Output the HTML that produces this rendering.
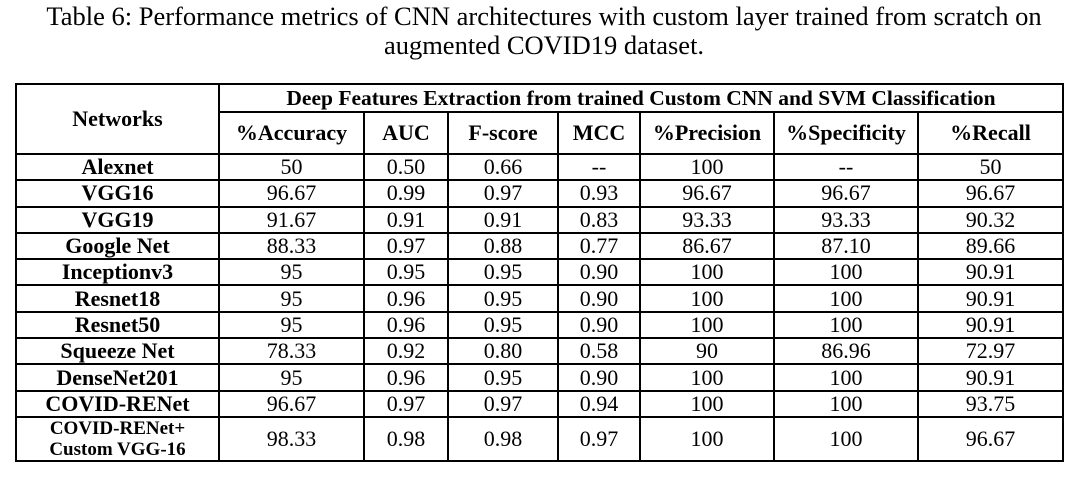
<!DOCTYPE html>
<html><head><meta charset="utf-8"><style>
body{margin:0;background:#fff;width:1088px;height:492px;overflow:hidden;font-family:"Liberation Serif",serif;color:#000}
.title{position:absolute;left:0;top:2px;width:1088px;text-align:center;font-size:26.5px;line-height:29px}
table{position:absolute;left:15px;top:83px;border-collapse:collapse;table-layout:fixed;font-size:22px}
td,th{border:2px solid #000;text-align:center;padding:0;line-height:22px;overflow:hidden;white-space:nowrap}
th{font-weight:bold}
td.n{font-weight:bold}
tr.d td{height:24.3px}
</style></head><body>
<div class="title">Table 6: Performance metrics of CNN architectures with custom layer trained from scratch on<br>augmented COVID19 dataset.</div>
<table>
<colgroup><col style="width:203px"><col style="width:145px"><col style="width:84px"><col style="width:110px"><col style="width:82px"><col style="width:134px"><col style="width:144px"><col style="width:145px"></colgroup>
<tr style="height:28px"><th rowspan="2">Networks</th><th colspan="7" style="font-size:21.5px">Deep Features Extraction from trained Custom CNN and SVM Classification</th></tr>
<tr style="height:42px"><th>%Accuracy</th><th>AUC</th><th>F-score</th><th>MCC</th><th>%Precision</th><th>%Specificity</th><th>%Recall</th></tr>
<tr class="d"><td class="n">Alexnet</td><td>50</td><td>0.50</td><td>0.66</td><td>--</td><td>100</td><td>--</td><td>50</td></tr>
<tr class="d"><td class="n">VGG16</td><td>96.67</td><td>0.99</td><td>0.97</td><td>0.93</td><td>96.67</td><td>96.67</td><td>96.67</td></tr>
<tr class="d"><td class="n">VGG19</td><td>91.67</td><td>0.91</td><td>0.91</td><td>0.83</td><td>93.33</td><td>93.33</td><td>90.32</td></tr>
<tr class="d"><td class="n">Google Net</td><td>88.33</td><td>0.97</td><td>0.88</td><td>0.77</td><td>86.67</td><td>87.10</td><td>89.66</td></tr>
<tr class="d"><td class="n">Inceptionv3</td><td>95</td><td>0.95</td><td>0.95</td><td>0.90</td><td>100</td><td>100</td><td>90.91</td></tr>
<tr class="d"><td class="n">Resnet18</td><td>95</td><td>0.96</td><td>0.95</td><td>0.90</td><td>100</td><td>100</td><td>90.91</td></tr>
<tr class="d"><td class="n">Resnet50</td><td>95</td><td>0.96</td><td>0.95</td><td>0.90</td><td>100</td><td>100</td><td>90.91</td></tr>
<tr class="d"><td class="n">Squeeze Net</td><td>78.33</td><td>0.92</td><td>0.80</td><td>0.58</td><td>90</td><td>86.96</td><td>72.97</td></tr>
<tr class="d"><td class="n">DenseNet201</td><td>95</td><td>0.96</td><td>0.95</td><td>0.90</td><td>100</td><td>100</td><td>90.91</td></tr>
<tr class="d"><td class="n">COVID-RENet</td><td>96.67</td><td>0.97</td><td>0.97</td><td>0.94</td><td>100</td><td>100</td><td>93.75</td></tr>
<tr style="height:44px"><td class="n" style="font-size:19px;line-height:21px">COVID-RENet+<br>Custom VGG-16</td><td>98.33</td><td>0.98</td><td>0.98</td><td>0.97</td><td>100</td><td>100</td><td>96.67</td></tr>
</table>
</body></html>
